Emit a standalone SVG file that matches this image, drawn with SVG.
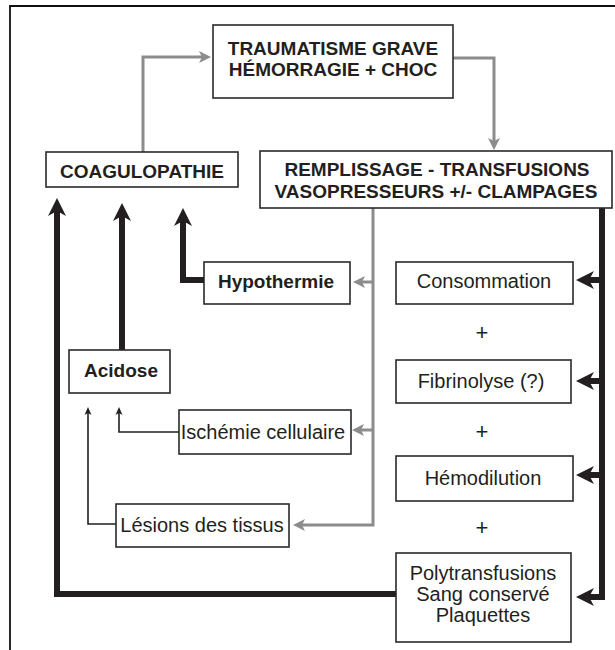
<svg xmlns="http://www.w3.org/2000/svg" width="615" height="650" viewBox="0 0 615 650">
<style>
.box{fill:#fff;stroke:#2a2a2a;stroke-width:1.6}
.t{font-family:"Liberation Sans",Arial,sans-serif;fill:#231f20;text-anchor:middle}
.b{font-weight:bold;font-size:19px}
.r{font-size:20px}
.p{font-size:22px}
.g{fill:none;stroke:#8c8c8c;stroke-width:3}
.k{fill:none;stroke:#231f20;stroke-width:6;stroke-linejoin:miter}
.n{fill:none;stroke:#231f20;stroke-width:1.6}
</style>
<defs>
<marker id="ak" markerUnits="userSpaceOnUse" markerWidth="20" markerHeight="20" viewBox="0 -10 20 20" refX="8" refY="0" orient="auto"><path d="M0,-9 L18,0 L0,9 L5,0 z" fill="#231f20"/></marker>
<marker id="ag" markerUnits="userSpaceOnUse" markerWidth="14" markerHeight="14" viewBox="0 -7 14 14" refX="6" refY="0" orient="auto"><path d="M0,-6 L12,0 L0,6 L3,0 z" fill="#8c8c8c"/></marker>
<marker id="an" markerUnits="userSpaceOnUse" markerWidth="10" markerHeight="10" viewBox="0 -5 10 10" refX="4" refY="0" orient="auto"><path d="M0,-3.5 L8,0 L0,3.5 L2,0 z" fill="#231f20"/></marker>
</defs>
<path d="M10,650 V6 H615" fill="none" stroke="#111" stroke-width="1.8"/>
<g id="connectors">
<path class="g" d="M143,152 V57 H205" marker-end="url(#ag)"/>
<path class="g" d="M453,58 H494 V144" marker-end="url(#ag)"/>
<path class="g" d="M373,208 V525 H299" marker-end="url(#ag)"/>
<path class="g" d="M373,282 H359" marker-end="url(#ag)"/>
<path class="g" d="M373,430 H358" marker-end="url(#ag)"/>
<path class="k" d="M396,594 H57 V208" marker-end="url(#ak)"/>
<path class="k" d="M122,350 V213" marker-end="url(#ak)"/>
<path class="k" d="M204,280 H183 V218" marker-end="url(#ak)"/>
<path class="k" d="M602,208 V597 H586" marker-end="url(#ak)"/>
<path class="k" d="M602,280 H586" marker-end="url(#ak)"/>
<path class="k" d="M602,381 H586" marker-end="url(#ak)"/>
<path class="k" d="M602,475 H586" marker-end="url(#ak)"/>
<path class="n" d="M179,432 H119 V411" marker-end="url(#an)"/>
<path class="n" d="M116,524 H88 V411" marker-end="url(#an)"/>
</g>
<g id="trauma"><rect class="box" x="213" y="25" width="240" height="73"/>
<text class="t b" x="333" y="55" font-size="18.5">TRAUMATISME GRAVE</text><text class="t b" x="333" y="76" font-size="18.5">HÉMORRAGIE + CHOC</text></g>
<g id="coagulopathie"><rect class="box" x="46" y="152" width="192" height="35"/>
<text class="t b" x="142" y="178">COAGULOPATHIE</text></g>
<g id="remplissage"><rect class="box" x="260" y="151" width="352" height="57"/>
<text class="t b" x="437" y="176">REMPLISSAGE - TRANSFUSIONS</text><text class="t b" x="436" y="198">VASOPRESSEURS +/- CLAMPAGES</text></g>
<g id="hypothermie"><rect class="box" x="204" y="262" width="146" height="42"/>
<text class="t b" x="276" y="288">Hypothermie</text></g>
<g id="acidose"><rect class="box" x="69" y="350" width="101" height="43"/>
<text class="t b" x="121" y="377">Acidose</text></g>
<g id="ischemie"><rect class="box" x="179" y="410" width="172" height="44"/>
<text class="t r" x="263" y="439">Ischémie cellulaire</text></g>
<g id="lesions"><rect class="box" x="116" y="504" width="173" height="43"/>
<text class="t r" x="202" y="532">Lésions des tissus</text></g>
<g id="consommation"><rect class="box" x="396" y="262" width="177" height="42"/>
<text class="t r" x="484" y="288">Consommation</text></g>
<g id="fibrinolyse"><rect class="box" x="396" y="360" width="175" height="43"/>
<text class="t r" x="481" y="388">Fibrinolyse (?)</text></g>
<g id="hemodilution"><rect class="box" x="396" y="456" width="177" height="45"/>
<text class="t r" x="483" y="485">Hémodilution</text></g>
<g id="polytransfusions"><rect class="box" x="396" y="553" width="175" height="89"/>
<text class="t r" x="483" y="580">Polytransfusions</text><text class="t r" x="483" y="601">Sang conservé</text><text class="t r" x="483" y="622">Plaquettes</text></g>
<g id="plus"><text class="t p" x="482" y="340">+</text><text class="t p" x="482" y="439">+</text><text class="t p" x="482" y="535">+</text></g>
</svg>
